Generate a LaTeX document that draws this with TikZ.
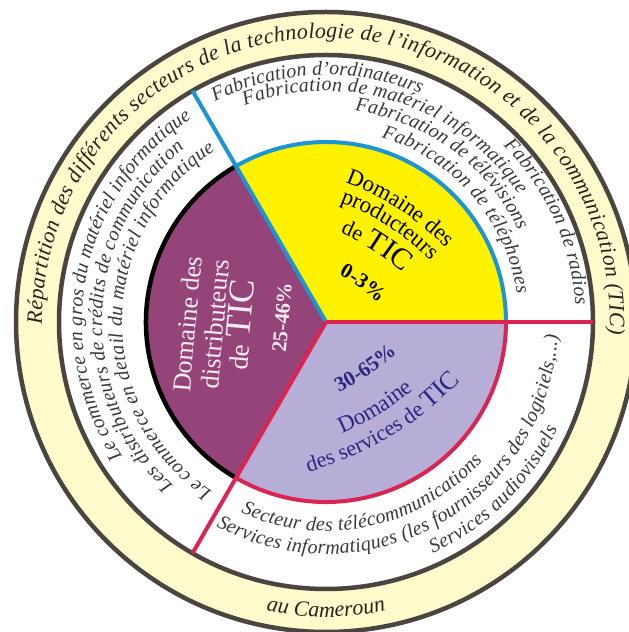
\documentclass[tikz,border=0pt]{standalone}
\usepackage{fontspec}
\setmainfont{Liberation Serif}
\usetikzlibrary{decorations.text}
\definecolor{cream}{HTML}{FFFBCC}
\definecolor{ringline}{HTML}{4A453F}
\definecolor{purp}{HTML}{944479}
\definecolor{yel}{HTML}{FFF200}
\definecolor{lav}{HTML}{B6AED6}
\definecolor{crim}{HTML}{DB2452}
\definecolor{blu}{HTML}{1C95D6}
\definecolor{bandtxt}{HTML}{3B3838}
\definecolor{titletxt}{HTML}{26231F}
\definecolor{lavtxt}{HTML}{2B2680}
\definecolor{purtxt}{HTML}{F7ECF3}
\tikzset{
  ringstyle/.style={draw=ringline, line width=4.5pt},
  rayblue/.style={draw=blu, line width=4pt},
  rayred/.style={draw=crim, line width=4pt},
  rimblack/.style={draw=black, line width=4.5pt},
  purlabel/.style={rotate=85, anchor=base, text=purtxt, inner sep=0pt},
}
\newcommand\bandfont{\fontsize{20}{24}\selectfont\itshape\color{bandtxt}}
\newcommand\titlefont{\fontsize{22}{26}\selectfont\itshape\color{titletxt}}
\newcommand\arcfit[5]{\path[decorate,decoration={text along path,text align={fit to path},text={#5}}] (#1) ++(#3:#2) arc[start angle=#3,end angle=#4,radius=#2];}
\newcommand\arcmid[5]{\path[decorate,decoration={text along path,text align={center},text={#5}}] (#1) ++(#3:#2) arc[start angle=#3,end angle=#4,radius=#2];}
\begin{document}
\begin{tikzpicture}[x=1pt,y=1pt]
\clip (0,0) rectangle (629,632);
\fill[white] (0,0) rectangle (629,632);
\coordinate (C) at (326,310);
\coordinate (Y0) at (255,200);
\coordinate (L0) at (220,479);
% rings
\fill[cream] (C) circle[radius=310];
\draw[ringstyle] (C) circle[radius=310];
\fill[white] (C) circle[radius=267];
\draw[ringstyle] (C) circle[radius=267];
% sectors
\fill[yel] (C) -- ++(0:180) arc[start angle=0,end angle=120,radius=180] -- cycle;
\fill[purp] (C) -- ++(120:180) arc[start angle=120,end angle=240,radius=180] -- cycle;
\fill[lav] (C) -- ++(240:180) arc[start angle=240,end angle=360,radius=180] -- cycle;
\draw[rayblue] (C) ++(0:180) arc[start angle=0,end angle=120,radius=180];
\draw[rimblack] (C) ++(120:180) arc[start angle=120,end angle=240,radius=180];
\draw[rayred] (C) ++(240:180) arc[start angle=240,end angle=360,radius=180];
\draw[rayblue] (C) -- ++(120:267);
\draw[rayred] (C) -- ++(240:267);
\draw[rayred] (C) -- ++(0:267);
% title ring
\arcfit{C}{284}{180.5}{-2.5}{|\titlefont|Répartition des différents secteurs de la technologie de l'information et de la communication (TIC)}
\arcmid{C}{295}{230}{310}{|\titlefont|au Cameroun}
% producers band
\arcfit{C}{247}{116.7}{67.5}{|\bandfont|Fabrication d'ordinateurs}
\arcfit{C}{231}{110.6}{33.5}{|\bandfont|Fabrication de matériel informatique}
\arcfit{C}{213}{82.2}{25.5}{|\bandfont|Fabrication de télévisions}
\arcfit{C}{193}{73.3}{8.3}{|\bandfont|Fabrication de téléphones}
\arcfit{C}{250}{44.8}{3.9}{|\bandfont|Fabrication de radios}
% distributors band
\arcfit{C}{244}{213.5}{123.4}{|\bandfont|Le commerce en gros du matériel informatique}
\arcfit{C}{224}{227}{129.2}{|\bandfont|Les distributeurs de crédits de communication}
\arcfit{C}{204}{236}{122.9}{|\bandfont|Le commerce en detail du matériel informatique}
% services band
\arcfit{C}{209}{246}{318.5}{|\bandfont|Secteur des télécommunications}
\arcfit{C}{232}{241.7}{356.8}{|\bandfont|Services informatiques (les fournisseurs des logiciels,...)}
\arcfit{C}{255}{294.8}{335.2}{|\bandfont|Services audiovisuels}
% yellow sector text
\arcmid{Y0}{265}{97}{17}{|\fontsize{23}{27}\selectfont\color{black}|Domaine des}
\arcmid{Y0}{245}{97}{17}{|\fontsize{23}{27}\selectfont\color{black}|producteurs}
\arcmid{Y0}{217}{97}{17}{|\fontsize{22}{27}\selectfont\color{black}|de |\fontsize{30}{34}\selectfont\color{black}|TIC}
\arcmid{Y0}{178}{94}{14}{|\fontsize{21}{25}\selectfont\bfseries\color{black}|0-3{\%}}
% lavender sector text
\arcmid{L0}{331}{-99}{-19}{|\fontsize{22}{26}\selectfont\color{lavtxt}|des services de |\fontsize{26}{30}\selectfont\color{lavtxt}|TIC}
\arcmid{L0}{306}{-98.6}{-18.6}{|\fontsize{23}{27}\selectfont\color{lavtxt}|Domaine}
\arcmid{L0}{267}{-96}{-16}{|\fontsize{21}{25}\selectfont\bfseries\color{lavtxt}|30-65{\%}}
% purple sector text
\node[purlabel, font=\fontsize{26}{30}\selectfont] (pd1) at (196,307) {Domaine des};
\node[purlabel, font=\fontsize{26}{30}\selectfont] (pd2) at (224,307) {distributeurs};
\node[purlabel, font=\fontsize{27}{30}\selectfont] (pd3) at (251,306) {de \fontsize{36}{40}\selectfont TIC};
\node[purlabel, font=\fontsize{21}{25}\selectfont\bfseries] (pd4) at (289,314) {25-46\%};
\end{tikzpicture}
\end{document}
